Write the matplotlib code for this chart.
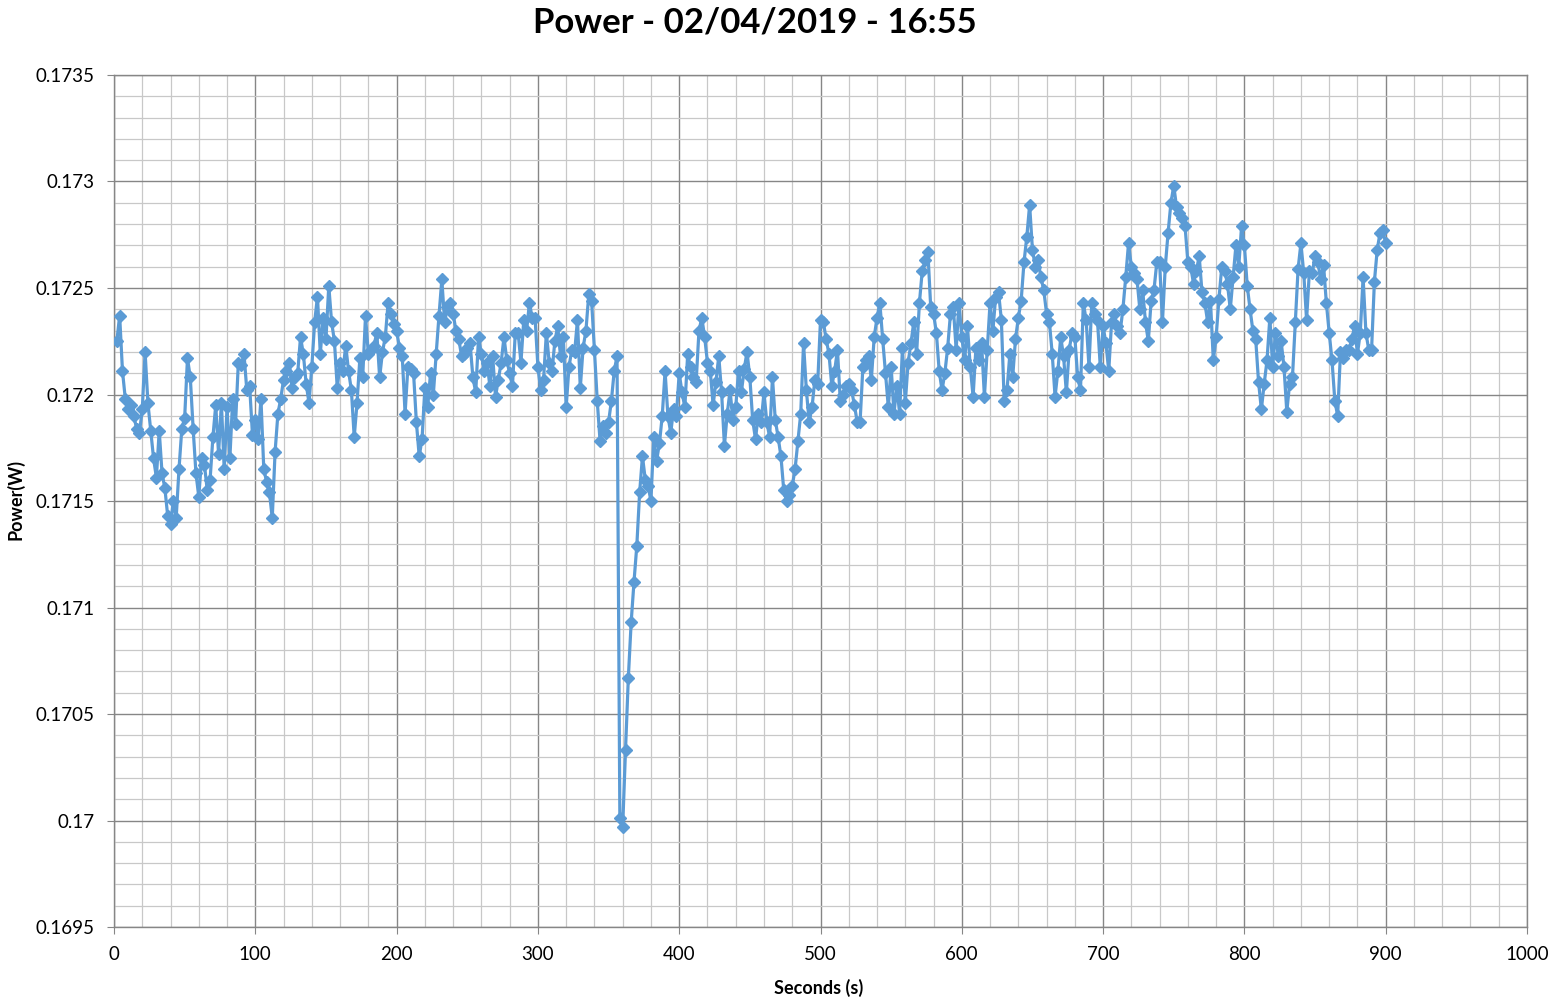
import matplotlib
matplotlib.use("Agg")
import matplotlib.pyplot as plt
from matplotlib.ticker import MultipleLocator, FuncFormatter

title = "Power - 02/04/2019 - 16:55"
x_label = "Seconds (s)"
y_label = "Power(W)"

# one sample every 2 s
power_w = [
    0.17225, 0.17237, 0.17211, 0.17198, 0.17193, 0.17195, 0.17190, 0.17184, 0.17182, 0.17193,  # 2-20
    0.17220, 0.17196, 0.17183, 0.17170, 0.17161, 0.17183, 0.17163, 0.17156, 0.17143, 0.17139,  # 22-40
    0.17150, 0.17142, 0.17165, 0.17184, 0.17189, 0.17217, 0.17208, 0.17184, 0.17163, 0.17152,  # 42-60
    0.17170, 0.17167, 0.17155, 0.17160, 0.17180, 0.17195, 0.17172, 0.17196, 0.17165, 0.17194,  # 62-80
    0.17170, 0.17198, 0.17186, 0.17215, 0.17214, 0.17219, 0.17202, 0.17204, 0.17181, 0.17188,  # 82-100
    0.17179, 0.17198, 0.17165, 0.17159, 0.17154, 0.17142, 0.17173, 0.17191, 0.17198, 0.17207,  # 102-120
    0.17211, 0.17215, 0.17203, 0.17208, 0.17210, 0.17227, 0.17219, 0.17205, 0.17196, 0.17213,  # 122-140
    0.17234, 0.17246, 0.17219, 0.17236, 0.17226, 0.17251, 0.17234, 0.17225, 0.17203, 0.17215,  # 142-160
    0.17211, 0.17223, 0.17211, 0.17202, 0.17180, 0.17196, 0.17217, 0.17208, 0.17237, 0.17219,  # 162-180
    0.17221, 0.17223, 0.17229, 0.17208, 0.17220, 0.17227, 0.17243, 0.17238, 0.17233, 0.17230,  # 182-200
    0.17222, 0.17218, 0.17191, 0.17213, 0.17212, 0.17210, 0.17187, 0.17171, 0.17179, 0.17203,  # 202-220
    0.17194, 0.17210, 0.17200, 0.17219, 0.17237, 0.17254, 0.17234, 0.17241, 0.17243, 0.17238,  # 222-240
    0.17230, 0.17226, 0.17218, 0.17219, 0.17222, 0.17224, 0.17208, 0.17201, 0.17227, 0.17219,  # 242-260
    0.17211, 0.17215, 0.17204, 0.17218, 0.17199, 0.17207, 0.17215, 0.17227, 0.17216, 0.17210,  # 262-280
    0.17204, 0.17229, 0.17229, 0.17215, 0.17235, 0.17230, 0.17243, 0.17236, 0.17236, 0.17213,  # 282-300
    0.17202, 0.17207, 0.17229, 0.17215, 0.17211, 0.17225, 0.17232, 0.17218, 0.17227, 0.17194,  # 302-320
    0.17213, 0.17221, 0.17220, 0.17235, 0.17203, 0.17222, 0.17230, 0.17247, 0.17244, 0.17221,  # 322-340
    0.17197, 0.17178, 0.17185, 0.17182, 0.17187, 0.17197, 0.17211, 0.17218, 0.17001, 0.16997,  # 342-360
    0.17033, 0.17067, 0.17093, 0.17112, 0.17129, 0.17154, 0.17171, 0.17160, 0.17157, 0.17150,  # 362-380
    0.17180, 0.17169, 0.17177, 0.17190, 0.17211, 0.17190, 0.17182, 0.17193, 0.17190, 0.17210,  # 382-400
    0.17201, 0.17194, 0.17219, 0.17213, 0.17208, 0.17206, 0.17230, 0.17236, 0.17227, 0.17215,  # 402-420
    0.17211, 0.17195, 0.17206, 0.17218, 0.17201, 0.17176, 0.17191, 0.17202, 0.17188, 0.17194,  # 422-440
    0.17211, 0.17201, 0.17212, 0.17220, 0.17208, 0.17188, 0.17179, 0.17191, 0.17187, 0.17201,  # 442-460
    0.17187, 0.17180, 0.17208, 0.17188, 0.17180, 0.17171, 0.17155, 0.17150, 0.17153, 0.17157,  # 462-480
    0.17165, 0.17178, 0.17191, 0.17224, 0.17202, 0.17187, 0.17194, 0.17207, 0.17205, 0.17235,  # 482-500
    0.17234, 0.17226, 0.17219, 0.17204, 0.17211, 0.17221, 0.17197, 0.17200, 0.17204, 0.17205,  # 502-520
    0.17202, 0.17195, 0.17187, 0.17187, 0.17213, 0.17216, 0.17218, 0.17207, 0.17227, 0.17236,  # 522-540
    0.17243, 0.17226, 0.17210, 0.17194, 0.17213, 0.17191, 0.17204, 0.17191, 0.17222, 0.17196,  # 542-560
    0.17215, 0.17224, 0.17234, 0.17219, 0.17243, 0.17258, 0.17263, 0.17267, 0.17241, 0.17238,  # 562-580
    0.17229, 0.17211, 0.17202, 0.17210, 0.17222, 0.17238, 0.17241, 0.17221, 0.17243, 0.17227,  # 582-600
    0.17216, 0.17232, 0.17213, 0.17199, 0.17222, 0.17216, 0.17224, 0.17199, 0.17221, 0.17243,  # 602-620
    0.17230, 0.17246, 0.17248, 0.17235, 0.17197, 0.17202, 0.17219, 0.17208, 0.17226, 0.17236,  # 622-640
    0.17244, 0.17262, 0.17274, 0.17289, 0.17268, 0.17260, 0.17263, 0.17255, 0.17249, 0.17238,  # 642-660
    0.17234, 0.17219, 0.17199, 0.17211, 0.17227, 0.17218, 0.17201, 0.17221, 0.17229, 0.17227,  # 662-680
    0.17208, 0.17202, 0.17243, 0.17235, 0.17213, 0.17243, 0.17238, 0.17235, 0.17213, 0.17232,  # 682-700
    0.17224, 0.17211, 0.17234, 0.17238, 0.17232, 0.17229, 0.17240, 0.17255, 0.17271, 0.17260,  # 702-720
    0.17257, 0.17254, 0.17240, 0.17249, 0.17234, 0.17225, 0.17244, 0.17249, 0.17262, 0.17262,  # 722-740
    0.17234, 0.17260, 0.17276, 0.17290, 0.17298, 0.17288, 0.17285, 0.17283, 0.17279, 0.17262,  # 742-760
    0.17260, 0.17252, 0.17258, 0.17265, 0.17248, 0.17243, 0.17234, 0.17244, 0.17216, 0.17227,  # 762-780
    0.17245, 0.17260, 0.17258, 0.17252, 0.17240, 0.17255, 0.17270, 0.17260, 0.17279, 0.17270,  # 782-800
    0.17251, 0.17240, 0.17230, 0.17226, 0.17206, 0.17193, 0.17205, 0.17216, 0.17236, 0.17213,  # 802-820
    0.17229, 0.17218, 0.17225, 0.17213, 0.17192, 0.17205, 0.17208, 0.17234, 0.17259, 0.17271,  # 822-840
    0.17257, 0.17235, 0.17258, 0.17257, 0.17265, 0.17262, 0.17254, 0.17261, 0.17243, 0.17229,  # 842-860
    0.17216, 0.17197, 0.17190, 0.17220, 0.17217, 0.17221, 0.17221, 0.17226, 0.17232, 0.17219,  # 862-880
    0.17229, 0.17255, 0.17229, 0.17221, 0.17221, 0.17253, 0.17268, 0.17276, 0.17277, 0.17271,  # 882-900
]
seconds = [2 * (i + 1) for i in range(len(power_w))]

blue = "#5b9bd5"
major_c = "#868686"
minor_c = "#c8c8c8"

plt.rcParams["font.family"] = ["Lato", "DejaVu Sans"]

fig = plt.figure(figsize=(15.53, 10.05), dpi=100)
ax = fig.add_axes([114 / 1553, 1 - 927 / 1005, (1527 - 114) / 1553, (927 - 75) / 1005])

ax.plot(seconds, power_w, color=blue, lw=2.3, marker="D", ms=6.5,
        mfc=blue, mec=blue, zorder=3)

ax.set_xlim(0, 1000)
ax.set_ylim(0.1695, 0.1735)
ax.xaxis.set_major_locator(MultipleLocator(100))
ax.xaxis.set_minor_locator(MultipleLocator(20))
ax.yaxis.set_major_locator(MultipleLocator(0.0005))
ax.yaxis.set_minor_locator(MultipleLocator(0.0001))
ax.yaxis.set_major_formatter(FuncFormatter(lambda v, p: "%g" % round(v, 5)))

ax.grid(which="major", color=major_c, lw=1.0)
ax.grid(which="minor", color=minor_c, lw=0.9)
ax.set_axisbelow(True)
for s in ax.spines.values():
    s.set_color(major_c)
    s.set_linewidth(1.0)

ax.tick_params(which="major", direction="out", length=5, color=major_c,
               labelsize=13.5, pad=9)
ax.tick_params(which="minor", length=0)

fig.text(755 / 1553, 1 - 22 / 1005, title, ha="center", va="center",
         fontsize=25, fontweight="bold")
fig.text(819 / 1553, 1 - 988 / 1005, x_label, ha="center", va="center",
         fontsize=13, fontweight="bold")
fig.text(15 / 1553, 1 - 500 / 1005, y_label, ha="center", va="center",
         rotation=90, fontsize=13, fontweight="bold")

fig.savefig("out.png", dpi=100)
